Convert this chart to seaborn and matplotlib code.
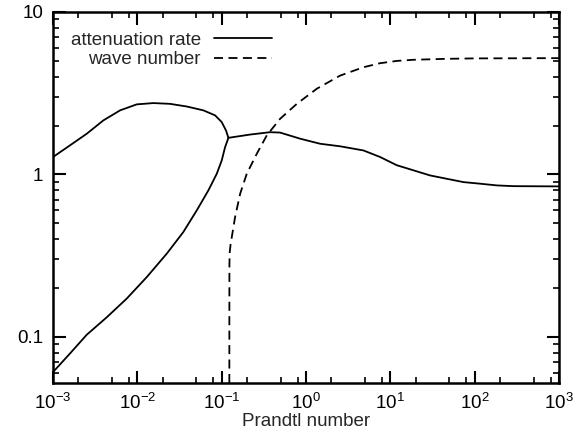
import numpy as np
import pandas as pd
import matplotlib
matplotlib.use("Agg")
import matplotlib.pyplot as plt
import matplotlib.ticker as mticker
import seaborn as sns

# ---- data ----
att_upper_x = [0.001, 0.00159, 0.00251, 0.00395, 0.00624, 0.00984, 0.0155, 0.0244,
               0.0385, 0.0607, 0.0836, 0.1002, 0.1128, 0.1202]
att_upper_y = [1.28, 1.51, 1.78, 2.15, 2.48, 2.70, 2.75, 2.72,
               2.62, 2.48, 2.31, 2.10, 1.86, 1.68]

att_lower_x = [0.001, 0.00159, 0.00251, 0.00434, 0.00748, 0.0129, 0.0223, 0.0351,
               0.0506, 0.0695, 0.0875, 0.1002, 0.1097, 0.1202,
               0.2173, 0.375, 0.493, 0.851, 1.47, 2.54, 4.80, 7.57,
               11.9, 18.8, 29.6, 46.8, 73.6, 116, 183, 288, 1000]
att_lower_y = [0.0607, 0.0790, 0.1030, 0.132, 0.172, 0.233, 0.325, 0.442,
               0.60, 0.797, 1.01, 1.22, 1.47, 1.68,
               1.76, 1.82, 1.81, 1.66, 1.545, 1.49, 1.405, 1.28,
               1.14, 1.06, 0.986, 0.94, 0.897, 0.877, 0.856, 0.847, 0.844]

wave_x = [0.1233, 0.1234, 0.1236, 0.1245, 0.1275, 0.1318, 0.1442, 0.1656, 0.1985,
          0.2608, 0.343, 0.493, 0.778, 1.343, 2.54, 4.80, 7.57, 12.0, 18.8,
          46.8, 100, 1000]
wave_y = [0.052, 0.15, 0.28, 0.33, 0.37, 0.411, 0.546, 0.76, 1.01,
          1.34, 1.74, 2.20, 2.72, 3.37, 4.06, 4.57, 4.84, 5.0, 5.08,
          5.15, 5.18, 5.2]

x_tick_vals = [1e-3, 1e-2, 1e-1, 1e0, 1e1, 1e2, 1e3]
x_tick_labels = [r"$10^{-3}$", r"$10^{-2}$", r"$10^{-1}$", r"$10^{0}$",
                 r"$10^{1}$", r"$10^{2}$", r"$10^{3}$"]
y_tick_vals = [0.1, 1, 10]
y_tick_labels = ["0.1", "1", "10"]
x_label = "Prandtl number"
labels = ["attenuation rate", "wave number"]

# ---- style ----
sns.set_theme(style="ticks")
plt.rcParams["font.family"] = ["Liberation Sans", "DejaVu Sans"]
plt.rcParams["mathtext.fontset"] = "custom"
plt.rcParams["mathtext.rm"] = "Liberation Sans"
plt.rcParams["mathtext.it"] = "Liberation Sans:italic"
plt.rcParams["mathtext.bf"] = "Liberation Sans:bold"

fig = plt.figure(figsize=(5.84, 4.37), dpi=100)
ax = fig.add_axes([53 / 584, 1 - 383 / 437, (559 - 53) / 584, (383 - 12) / 437])

df_up = pd.DataFrame({"x": att_upper_x, "y": att_upper_y})
df_lo = pd.DataFrame({"x": att_lower_x, "y": att_lower_y})
df_wv = pd.DataFrame({"x": wave_x, "y": wave_y})

sns.lineplot(data=df_lo, x="x", y="y", ax=ax, color="black", lw=1.3,
             sort=False, estimator=None, label=labels[0])
sns.lineplot(data=df_up, x="x", y="y", ax=ax, color="black", lw=1.3,
             sort=False, estimator=None)
sns.lineplot(data=df_wv, x="x", y="y", ax=ax, color="black", lw=1.3,
             sort=False, estimator=None, label=labels[1])
ax.lines[-1].set_dashes([5, 3])

ax.set_xscale("log")
ax.set_yscale("log")
ax.set_xlim(1e-3, 1e3)
ax.set_ylim(0.052, 10)

minor_x = [d * m for d in x_tick_vals[:-1] for m in (2, 5, 8)]
minor_y = [d * m for d in (0.01, 0.1, 1) for m in range(2, 10) if 0.052 <= d * m <= 10]

ax.xaxis.set_major_locator(mticker.FixedLocator(x_tick_vals))
ax.xaxis.set_major_formatter(mticker.FixedFormatter(x_tick_labels))
ax.xaxis.set_minor_locator(mticker.FixedLocator(minor_x))
ax.xaxis.set_minor_formatter(mticker.NullFormatter())
ax.yaxis.set_major_locator(mticker.FixedLocator(y_tick_vals))
ax.yaxis.set_major_formatter(mticker.FixedFormatter(y_tick_labels))
ax.yaxis.set_minor_locator(mticker.FixedLocator(minor_y))
ax.yaxis.set_minor_formatter(mticker.NullFormatter())

ax.tick_params(which="both", direction="in", top=True, right=True, colors="black",
               labelsize=13.5)
ax.tick_params(which="major", length=9, width=1.5, pad=7)
ax.tick_params(which="minor", length=4.5, width=1.2)
for s in ax.spines.values():
    s.set_linewidth(1.8)
    s.set_color("black")

ax.set_xlabel(x_label, fontsize=13.5, labelpad=0)
ax.set_ylabel("")

leg = ax.legend(loc="upper left", bbox_to_anchor=(0.035, 0.947), frameon=False,
                markerfirst=False, handlelength=3.1, handletextpad=0.7,
                labelspacing=0.12, fontsize=13.5, borderpad=0, borderaxespad=0)

fig.savefig("out.png", dpi=100)
